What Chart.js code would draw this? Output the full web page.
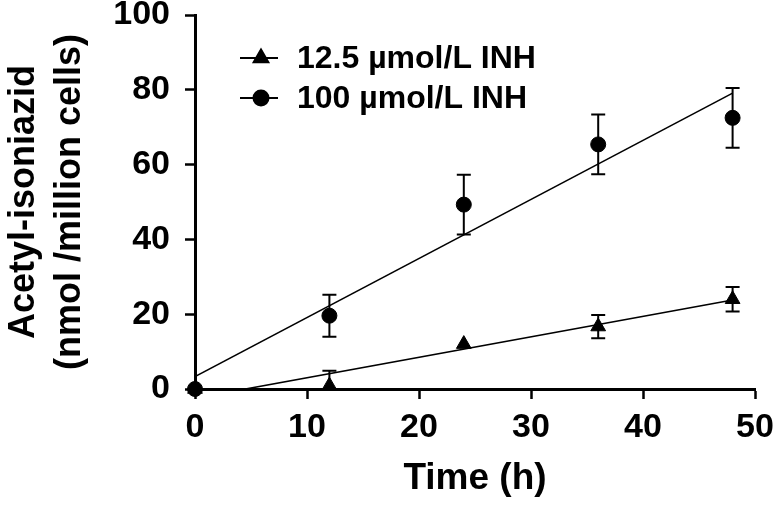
<!DOCTYPE html>
<html><head><meta charset="utf-8">
<script src="https://cdn.jsdelivr.net/npm/chart.js@4/dist/chart.umd.min.js"></script>
<style>html,body{margin:0;padding:0;background:#fff}#wrap{width:778px;height:508px}</style>
</head><body><div id="wrap"><canvas id="c" width="778" height="508"></canvas></div>
<script>
// ---- data ----
const timePoints = [0, 12, 24, 36, 48];
const lowValues = [0, 0.9, 12.0, 16.7, 24.0];
const lowErrors = [0, 4.0, 0, 3.1, 3.3];
const highValues = [0, 19.6, 49.3, 65.4, 72.5];
const highErrors = [0, 5.6, 8.0, 8.0, 8.0];
const lowFitX = [4.5, 48];
const lowFitY = [0, 23.8];
const highFitX = [0, 48];
const highFitY = [3.3, 79.1];
const xTicks = [0, 10, 20, 30, 40, 50];
const yTicks = [0, 20, 40, 60, 80, 100];
const seriesLabels = ['12.5 µmol/L INH', '100 µmol/L INH'];
const xTitle = 'Time (h)';
const yTitle = ['Acetyl-isoniazid', '(nmol /million cells)'];

const FONT = 'Liberation Sans, Arial, Helvetica, sans-serif';
const pts = (xs, ys) => xs.map((x, i) => ({x: x, y: ys[i]}));

const errorBars = {
  id: 'errorBars',
  afterDatasetsDraw(chart) {
    const ctx = chart.ctx, xs = chart.scales.x, ys = chart.scales.y, a = chart.chartArea;
    ctx.save();
    ctx.beginPath();
    ctx.rect(0, a.top - 20, chart.width, a.bottom - a.top + 20);
    ctx.clip();
    ctx.strokeStyle = '#000';
    ctx.lineWidth = 2;
    chart.data.datasets.forEach(ds => {
      if (!ds.errors) return;
      ds.data.forEach((p, i) => {
        const e = ds.errors[i];
        if (!e) return;
        const px = xs.getPixelForValue(p.x);
        const top = ys.getPixelForValue(p.y + e);
        const bot = ys.getPixelForValue(p.y - e);
        const cap = 7;
        ctx.beginPath();
        ctx.moveTo(px, top); ctx.lineTo(px, bot);
        ctx.moveTo(px - cap, top); ctx.lineTo(px + cap, top);
        ctx.moveTo(px - cap, bot); ctx.lineTo(px + cap, bot);
        ctx.stroke();
      });
    });
    ctx.restore();
  }
};

const customLegend = {
  id: 'customLegend',
  afterDraw(chart) {
    const ctx = chart.ctx, a = chart.chartArea;
    const items = [
      {label: seriesLabels[0], style: 'triangle', r: 8.5, y: a.top + 43},
      {label: seriesLabels[1], style: 'circle', r: 7.5, y: a.top + 83}
    ];
    ctx.save();
    items.forEach(it => {
      const x0 = a.left + 45, x1 = a.left + 83, cx = (x0 + x1) / 2 + 2;
      ctx.strokeStyle = '#000'; ctx.fillStyle = '#000'; ctx.lineWidth = 2;
      ctx.beginPath(); ctx.moveTo(x0, it.y); ctx.lineTo(x1, it.y); ctx.stroke();
      Chart.helpers.drawPoint(ctx, {pointStyle: it.style, radius: it.r, borderWidth: 1}, cx, it.y);
      ctx.fillStyle = '#000';
      ctx.font = 'bold 32px ' + FONT;
      ctx.textBaseline = 'middle';
      ctx.textAlign = 'left';
      ctx.fillText(it.label, a.left + 102, it.y + 1);
    });
    ctx.restore();
  }
};

const tickFont = {family: FONT, weight: 'bold', size: 34, lineHeight: 1};

new Chart(document.getElementById('c'), {
  type: 'scatter',
  data: {
    datasets: [
      {label: 'fit100', type: 'line', data: pts(highFitX, highFitY), borderColor: '#000', borderWidth: 1.6,
       pointRadius: 0, fill: false, tension: 0},
      {label: 'fit12', type: 'line', data: pts(lowFitX, lowFitY), borderColor: '#000', borderWidth: 1.6,
       pointRadius: 0, fill: false, tension: 0},
      {label: seriesLabels[1], data: pts(timePoints, highValues), errors: highErrors, pointStyle: 'circle',
       pointRadius: 7.5, backgroundColor: '#000', borderColor: '#000', borderWidth: 1, clip: false},
      {label: seriesLabels[0], data: pts(timePoints, lowValues), errors: lowErrors, pointStyle: 'triangle',
       pointRadius: 8.5, backgroundColor: '#000', borderColor: '#000', borderWidth: 1, clip: false}
    ]
  },
  options: {
    responsive: false,
    animation: false,
    events: [],
    layout: {padding: {top: 15, right: 23, bottom: 0, left: 0}},
    plugins: {legend: {display: false}, tooltip: {enabled: false}},
    scales: {
      x: {
        type: 'linear', min: 0, max: 50,
        afterBuildTicks: s => { s.ticks = xTicks.map(v => ({value: v})); },
        afterFit: s => { s.height = 119; s.paddingLeft = 0; s.paddingRight = 0; },
        grid: {drawOnChartArea: false, drawTicks: true, tickLength: 10, tickWidth: 2.5, tickColor: '#000'},
        border: {display: true, color: '#000', width: 3},
        ticks: {color: '#000', font: tickFont, padding: 12, maxRotation: 0, autoSkip: false},
        title: {display: true, text: xTitle, color: '#000',
                font: {family: FONT, weight: 'bold', size: 37, lineHeight: 1}, padding: {top: 0, bottom: 11}}
      },
      y: {
        min: 0, max: 100,
        afterBuildTicks: s => { s.ticks = yTicks.map(v => ({value: v})); },
        afterFit: s => { s.width = 195; s.paddingTop = 0; s.paddingBottom = 0; },
        grid: {drawOnChartArea: false, drawTicks: true, tickLength: 10, tickWidth: 2.5, tickColor: '#000'},
        border: {display: true, color: '#000', width: 3},
        ticks: {color: '#000', font: tickFont, padding: 15, autoSkip: false},
        title: {display: true, text: yTitle, color: '#000',
                font: {family: FONT, weight: 'bold', size: 36, lineHeight: 1.28}, padding: {top: 1, bottom: 0}}
      }
    }
  },
  plugins: [errorBars, customLegend]
});
</script>
</body></html>
